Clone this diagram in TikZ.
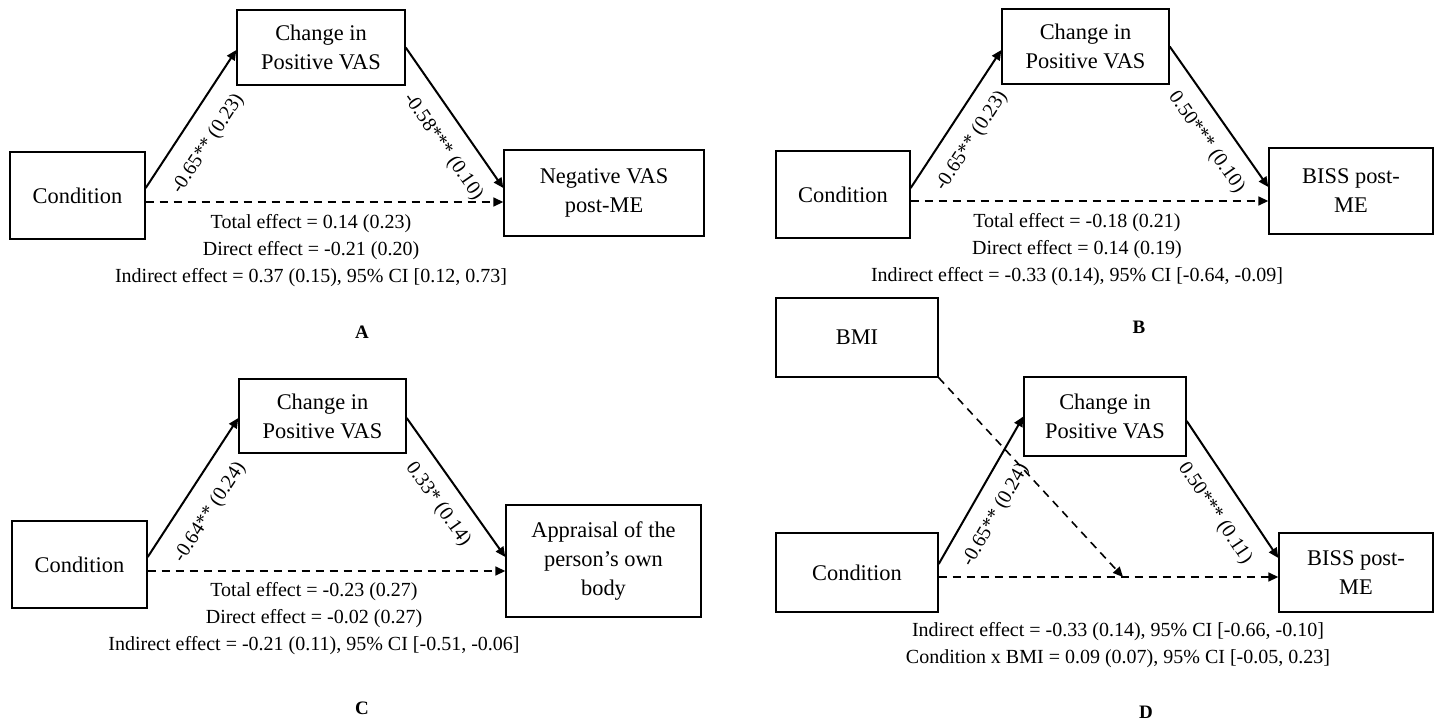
\documentclass[tikz,border=0pt]{standalone}
\usepackage{fontspec}
\setmainfont{Liberation Serif}
\usetikzlibrary{arrows.meta}
\begin{document}
\begin{tikzpicture}[x=0.5pt,y=-0.5pt,
  box/.style={draw, line width=0.7pt, align=center, inner sep=0pt, font=\fontsize{11.2}{14.5}\selectfont},
  arr/.style={line width=1pt, -{Triangle[length=5pt,width=4.5pt]}},
  darr/.style={line width=0.8pt, dash pattern=on 4pt off 3pt, -{Triangle[length=5pt,width=4.5pt]}},
  coef/.style={sloped, inner sep=0pt, font=\fontsize{10}{12}\selectfont},
  eff/.style={align=center, inner sep=0pt, font=\fontsize{10}{13.5}\selectfont},
  lettb/.style={font=\fontsize{9.5}{12}\selectfont\bfseries}]
\useasboundingbox (0,0) rectangle (1434,723);

% ---------------- Panel A ----------------
\node[box, minimum width=67.5pt, minimum height=43.5pt] (cA) at (77.5,195.5) {Condition};
\node[box, minimum width=84pt, minimum height=37.5pt] (mA) at (321,47.5) {Change in\\Positive VAS};
\node[box, minimum width=100pt, minimum height=43pt] (oA) at (604,193) {Negative VAS\\post-ME};
\draw[arr] ([yshift=3.75pt]cA.east) -- node[coef, pos=0.43, below=9pt] {-0.65** (0.23)} ([yshift=-1.25pt]mA.west);
\draw[arr] (mA.east) -- node[coef, pos=0.60, below=8pt] {-0.58*** (0.10)} ([yshift=2.5pt]oA.west);
\coordinate (dA) at ([yshift=-3.25pt]cA.east);
\draw[darr] (dA) -- (dA -| oA.west);
\node[eff] (eA) at (311,251) {Total effect = 0.14 (0.23)\\Direct effect = -0.21 (0.20)\\Indirect effect = 0.37 (0.15), 95\% CI [0.12, 0.73]};
\node[lettb] (lA) at (362,332) {A};

% ---------------- Panel B ----------------
\node[box, minimum width=67pt, minimum height=43.5pt] (cB) at (843,194.5) {Condition};
\node[box, minimum width=83.5pt, minimum height=37.5pt] (mB) at (1085.5,46.5) {Change in\\Positive VAS};
\node[box, minimum width=82pt, minimum height=43pt] (oB) at (1351,191) {BISS post-\\ME};
\draw[arr] ([yshift=3.25pt]cB.east) -- node[coef, pos=0.44, below=7.6pt] {-0.65** (0.23)} ([yshift=-1.75pt]mB.west);
\draw[arr] (mB.east) -- node[coef, pos=0.58, below=7.5pt] {0.50*** (0.10)} ([yshift=2pt]oB.west);
\coordinate (dB) at ([yshift=-3.25pt]cB.east);
\draw[darr] (dB) -- (dB -| oB.west);
\node[eff] (eB) at (1077,250) {Total effect = -0.18 (0.21)\\Direct effect = 0.14 (0.19)\\Indirect effect = -0.33 (0.14), 95\% CI [-0.64, -0.09]};
\node[lettb] (lB) at (1139,327) {B};

% ---------------- Panel C ----------------
\node[box, minimum width=67.5pt, minimum height=43.5pt] (cC) at (79.5,564.5) {Condition};
\node[box, minimum width=83.5pt, minimum height=37pt] (mC) at (322.5,416) {Change in\\Positive VAS};
\node[box, minimum width=97.5pt, minimum height=56pt] (oC) at (603.5,561) {Appraisal of the\\person’s own\\body};
\draw[arr] ([yshift=3.75pt]cC.east) -- node[coef, pos=0.43, below=8.9pt] {-0.64** (0.24)} ([yshift=-1pt]mC.west);
\draw[arr] ([yshift=-1pt]mC.east) -- node[coef, pos=0.52, below=7.2pt] {0.33* (0.14)} ([yshift=2pt]oC.west);
\coordinate (dC) at ([yshift=-3.25pt]cC.east);
\draw[darr] (dC) -- (dC -| oC.west);
\node[eff] (eC) at (314,619) {Total effect = -0.23 (0.27)\\Direct effect = -0.02 (0.27)\\Indirect effect = -0.21 (0.11), 95\% CI [-0.51, -0.06]};
\node[lettb] (lC) at (362,708) {C};

% ---------------- Panel D ----------------
\node[box, minimum width=81pt, minimum height=39.5pt] (bmi) at (857,337.5) {BMI};
\node[box, minimum width=81pt, minimum height=39.5pt] (cD) at (857,572.5) {Condition};
\node[box, minimum width=81pt, minimum height=39.5pt] (mD) at (1105,416.5) {Change in\\Positive VAS};
\node[box, minimum width=77pt, minimum height=39.5pt] (oD) at (1356,572.5) {BISS post-\\ME};
\draw[arr] ([yshift=4.25pt]cD.east) -- node[coef, pos=0.415, below=7.6pt] {-0.65** (0.24)} (mD.west);
\draw[arr] ([yshift=-2.25pt]mD.east) -- node[coef, pos=0.56, below=8.9pt] {0.50*** (0.11)} ([yshift=7.25pt]oD.west);
\coordinate (dD) at ([yshift=-2.25pt]cD.east);
\draw[darr] (dD) -- (dD -| oD.west);
\coordinate (xD) at (1123,577);
\draw[darr] (bmi.south east) -- (xD);
\node[eff] (eD) at (1118,645) {Indirect effect = -0.33 (0.14), 95\% CI [-0.66, -0.10]\\Condition x BMI = 0.09 (0.07), 95\% CI [-0.05, 0.23]};
\node[lettb] (lD) at (1146,712) {D};
\end{tikzpicture}
\end{document}
